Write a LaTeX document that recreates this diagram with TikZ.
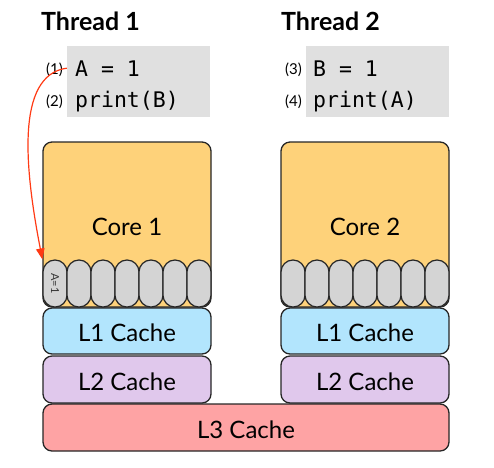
\documentclass[tikz,border=0pt]{standalone}
\usepackage{fontspec}
\setmainfont{Lato}
\setmonofont{DejaVu Sans Mono}
\usetikzlibrary{arrows.meta}
\definecolor{corefill}{HTML}{FED27A}
\definecolor{slotfill}{HTML}{D4D4D4}
\definecolor{lonefill}{HTML}{B2E5FD}
\definecolor{ltwofill}{HTML}{E0C8EC}
\definecolor{lthreefill}{HTML}{FEA3A4}
\definecolor{codefill}{HTML}{E0E0E0}
\definecolor{arrowred}{HTML}{FF3A14}
\tikzset{
	block/.style={
			draw=black!85, line width=1.3pt, rounded corners=9pt,
			minimum width=168pt, inner sep=0pt, text height=21pt, text depth=0pt,
			font=\fontsize{24}{28}\selectfont
		},
	slot/.style={
			draw=black!85, line width=1.2pt, fill=slotfill, rounded corners=11.9pt,
			minimum width=24pt, minimum height=47pt, inner sep=0pt
		},
	codebox/.style={fill=codefill, minimum width=143pt, minimum height=71pt, inner sep=0pt},
	codeline/.style={anchor=base west, inner sep=0pt, font=\ttfamily\fontsize{21.5}{26}\selectfont},
	stepnum/.style={anchor=base east, inner sep=0pt, font=\fontsize{15}{17}\selectfont},
	threadtitle/.style={anchor=base west, inner sep=0pt, font=\bfseries\fontsize{25}{29}\selectfont},
	memarrow/.style={draw=arrowred, line width=1.2pt, -{Triangle[length=11pt,width=8.5pt]}}
}

\begin{document}
\begin{tikzpicture}[x=1pt, y=-1pt]
			\useasboundingbox (0,0) rectangle (494,467);

			% Thread titles
			\node[threadtitle] (t1) at (41,30) {Thread 1};
			\node[threadtitle] (t2) at (281,30) {Thread 2};

			% Code of each thread
			\node[codebox] (code1) at (138.5,81.5) {};
			\node[codebox] (code2) at (377,81.5) {};
			\node[codeline] (a1) at (75,76) {A = 1};
			\node[codeline] (b1) at (75,107) {print(B)};
			\node[codeline] (a2) at (313,76) {B = 1};
			\node[codeline] (b2) at (313,107) {print(A)};
			\node[stepnum] (n1) at (63,74) {(1)};
			\node[stepnum] (n2) at (63,106) {(2)};
			\node[stepnum] (n3) at (302,74) {(3)};
			\node[stepnum] (n4) at (302,106) {(4)};

			% Cores
			\node[block, fill=corefill, minimum height=165pt] (core1) at (127,224.5) {Core 1};
			\node[block, fill=corefill, minimum height=165pt] (core2) at (365,224.5) {Core 2};

			% Store buffers
			\foreach \i in {0,...,6} {
					\node[slot] (s1-\i) at (55+24*\i,283.5) {};
					\node[slot] (s2-\i) at (293+24*\i,283.5) {};
				}
			\node[rotate=-90, inner sep=0pt, text=black!80, font=\fontsize{11}{13}\selectfont] (storeA) at (s1-0) {A=1};

			% Caches
			\node[block, fill=lonefill, minimum height=46pt] (l1a) at (127,331) {L1 Cache};
			\node[block, fill=lonefill, minimum height=46pt] (l1b) at (365,331) {L1 Cache};
			\node[block, fill=ltwofill, minimum height=47pt] (l2a) at (127,379.5) {L2 Cache};
			\node[block, fill=ltwofill, minimum height=47pt] (l2b) at (365,379.5) {L2 Cache};
			\node[block, fill=lthreefill, minimum width=406pt, minimum height=47pt] (l3) at (246,427.5) {L3 Cache};

			% Write goes to the store buffer
			\draw[memarrow] (code1.west |- a1) .. controls (15,75) and (25,170) .. (s1-0.north west);
		\end{tikzpicture}
\end{document}
